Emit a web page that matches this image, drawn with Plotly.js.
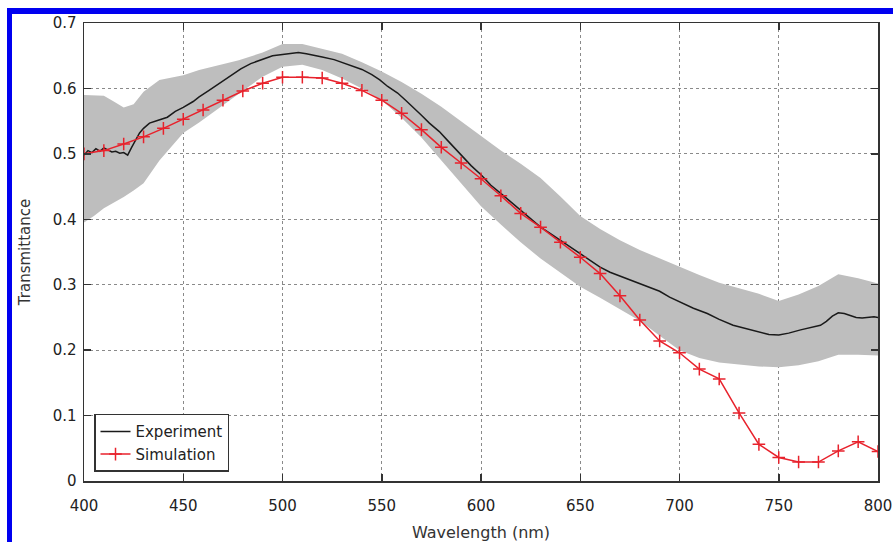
<!DOCTYPE html>
<html>
<head>
<meta charset="utf-8">
<script src="https://cdn.plot.ly/plotly-3.0.1.min.js"></script>
<style>
  html, body { margin: 0; padding: 0; background: #fff; }
  #wrap { position: relative; width: 893px; height: 542px; overflow: hidden; }
  #chart { position: absolute; left: 0; top: 0; width: 893px; height: 542px; }
  .bar { position: absolute; background: #0000f0; z-index: 5; }
</style>
</head>
<body>
<div id="wrap">
  <div id="chart"></div>
  <div class="bar" style="left:7px; top:8px; width:886px; height:6px;"></div>
  <div class="bar" style="left:7px; top:8px; width:5px; height:534px;"></div>
</div>
<script>
// Experiment (measured transmittance)
const expX = [400,402,404,406,408,410,412,414,416,418,420,422,424,426,428,430,433,437,442,446,450,455,458,463,468,474,479,484,490,495,500,505,508,512,516,520,526,532,536,540,545,549,553,558,562,566,570,574,579,583,587,591,595,600,605,611,616,621,626,630,635,640,645,650,655,660,665,671,678,685,690,695,701,707,714,720,727,733,739,745,750,755,761,766,771,774,777,780,783,786,789,792,795,798,800];
const expY = [0.498,0.505,0.502,0.508,0.504,0.509,0.506,0.503,0.504,0.501,0.502,0.498,0.510,0.522,0.532,0.539,0.547,0.551,0.556,0.565,0.571,0.580,0.587,0.597,0.607,0.620,0.630,0.638,0.645,0.650,0.652,0.654,0.655,0.653,0.651,0.648,0.644,0.638,0.634,0.629,0.621,0.613,0.603,0.593,0.582,0.571,0.559,0.547,0.534,0.521,0.508,0.495,0.482,0.468,0.452,0.437,0.424,0.411,0.399,0.388,0.378,0.368,0.358,0.348,0.337,0.327,0.319,0.312,0.304,0.296,0.290,0.281,0.272,0.264,0.256,0.247,0.238,0.233,0.228,0.224,0.223,0.226,0.231,0.234,0.238,0.244,0.252,0.257,0.256,0.253,0.250,0.249,0.250,0.251,0.250];

// Experimental uncertainty band
const bandX = [400,405,410,415,420,425,430,438,450,458,470,478,490,500,510,520,530,540,550,560,570,580,590,600,610,620,630,640,650,660,670,680,690,700,710,720,730,740,750,760,770,780,790,800];
const bandUpper = [0.590,0.590,0.589,0.580,0.571,0.576,0.595,0.613,0.620,0.628,0.637,0.643,0.655,0.668,0.668,0.661,0.653,0.640,0.626,0.610,0.592,0.572,0.550,0.527,0.505,0.485,0.463,0.435,0.405,0.385,0.368,0.353,0.340,0.328,0.315,0.303,0.294,0.286,0.275,0.285,0.298,0.316,0.310,0.302];
const bandLower = [0.395,0.405,0.417,0.425,0.434,0.444,0.455,0.490,0.532,0.548,0.575,0.592,0.618,0.633,0.636,0.628,0.615,0.600,0.582,0.555,0.525,0.490,0.455,0.420,0.392,0.365,0.340,0.318,0.297,0.280,0.262,0.245,0.222,0.200,0.188,0.181,0.178,0.175,0.174,0.177,0.183,0.193,0.193,0.192];

// Simulation
const simX = [400,410,420,430,440,450,460,470,480,490,500,510,520,530,540,550,560,570,580,590,600,610,620,630,640,650,660,670,680,690,700,710,720,730,740,750,760,770,780,790,800];
const simY = [0.500,0.505,0.515,0.526,0.539,0.553,0.567,0.582,0.596,0.608,0.617,0.617,0.616,0.608,0.597,0.582,0.562,0.537,0.510,0.486,0.462,0.436,0.409,0.388,0.365,0.342,0.317,0.283,0.246,0.214,0.196,0.171,0.156,0.104,0.056,0.036,0.029,0.029,0.046,0.060,0.045];

const xTicks = [400,450,500,550,600,650,700,750,800];
const yTicks = [0,0.1,0.2,0.3,0.4,0.5,0.6,0.7];
const yTickText = ['0','0.1','0.2','0.3','0.4','0.5','0.6','0.7'];

const FONT = 'DejaVu Sans, Verdana, sans-serif';

const traces = [
  { x: bandX, y: bandLower, type: 'scatter', mode: 'lines', line: {width: 0, color: 'rgba(0,0,0,0)'}, showlegend: false, hoverinfo: 'skip' },
  { x: bandX, y: bandUpper, type: 'scatter', mode: 'lines', line: {width: 0, color: 'rgba(0,0,0,0)'}, fill: 'tonexty', fillcolor: '#bebebe', showlegend: false, hoverinfo: 'skip' },
  { x: expX, y: expY, type: 'scatter', mode: 'lines', name: 'Experiment', line: {color: '#1a1a1a', width: 1.5} },
  { x: simX, y: simY, type: 'scatter', mode: 'lines+markers', name: 'Simulation', line: {color: '#e8222c', width: 1.5},
    marker: {symbol: 'cross-thin', size: 9, line: {color: '#e8222c', width: 1.5}} }
];

const axisCommon = {
  showline: true, linecolor: '#333', linewidth: 1.5, mirror: 'ticks',
  ticks: 'inside', ticklen: 7, tickwidth: 1.5, tickcolor: '#333',
  showgrid: true, gridcolor: '#8a8a8a', griddash: 'dot', gridwidth: 1,
  zeroline: false, tickfont: {family: FONT, size: 15, color: '#222'}
};

const layout = {
  width: 893, height: 542,
  margin: {l: 84, r: 15, t: 23, b: 61},
  paper_bgcolor: '#fff', plot_bgcolor: '#fff',
  showlegend: true,
  legend: {
    x: 0.0126, y: 0.02, xanchor: 'left', yanchor: 'bottom', traceorder: 'normal',
    bgcolor: '#fff', bordercolor: '#333', borderwidth: 1.5,
    font: {family: FONT, size: 15, color: '#222'}, tracegroupgap: 0
  },
  xaxis: Object.assign({}, axisCommon, {
    range: [400, 800], tickvals: xTicks, ticktext: xTicks.map(String), ticklabelstandoff: 10,
    title: {text: 'Wavelength (nm)', font: {family: FONT, size: 16, color: '#333'}, standoff: 14}
  }),
  yaxis: Object.assign({}, axisCommon, {
    range: [0, 0.7], tickvals: yTicks, ticktext: yTickText, ticklabelstandoff: 3,
    title: {text: 'Transmittance', font: {family: FONT, size: 15, color: '#333'}, standoff: 18}
  })
};

Plotly.newPlot('chart', traces, layout, {displayModeBar: false, staticPlot: true});
</script>
</body>
</html>
